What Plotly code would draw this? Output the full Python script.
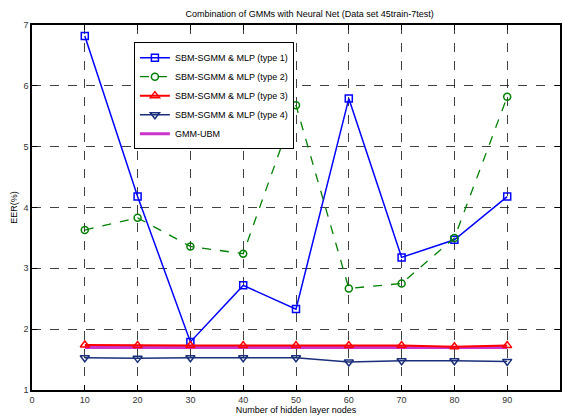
import plotly.graph_objects as go

nodes = [10, 20, 30, 40, 50, 60, 70, 80, 90]
type1 = [6.82, 4.18, 1.79, 2.72, 2.33, 5.79, 3.18, 3.47, 4.18]
type2 = [3.63, 3.83, 3.36, 3.24, 5.68, 2.67, 2.75, 3.50, 5.82]
type3 = [1.74, 1.73, 1.73, 1.73, 1.73, 1.73, 1.73, 1.71, 1.73]
type4 = [1.53, 1.52, 1.53, 1.53, 1.53, 1.46, 1.48, 1.48, 1.47]
gmm_ubm = [1.70, 1.70, 1.70, 1.70, 1.70, 1.70, 1.70, 1.70, 1.70]

names = ["SBM-SGMM & MLP (type 1)", "SBM-SGMM & MLP (type 2)",
         "SBM-SGMM & MLP (type 3)", "SBM-SGMM & MLP (type 4)", "GMM-UBM"]

fig = go.Figure()
fig.add_trace(go.Scatter(x=nodes, y=gmm_ubm, mode="lines", name=names[4],
                         line=dict(color="#cc33cc", width=3), legendrank=5))
fig.add_trace(go.Scatter(x=nodes, y=type1, mode="lines+markers", name=names[0],
                         line=dict(color="#0000ff", width=1.5),
                         marker=dict(symbol="square-open", size=7, color="#0000ff", line=dict(width=1.5)),
                         legendrank=1))
fig.add_trace(go.Scatter(x=nodes, y=type2, mode="lines+markers", name=names[1],
                         line=dict(color="#008000", width=1.3, dash="dash"),
                         marker=dict(symbol="circle-open", size=7, color="#008000", line=dict(width=1.5)),
                         legendrank=2))
fig.add_trace(go.Scatter(x=nodes, y=type3, mode="lines+markers", name=names[2],
                         line=dict(color="#ff0000", width=2),
                         marker=dict(symbol="triangle-up-open", size=8, color="#ff0000", line=dict(width=1.5)),
                         legendrank=3))
fig.add_trace(go.Scatter(x=nodes, y=type4, mode="lines+markers", name=names[3],
                         line=dict(color="#1a2f7a", width=1.5),
                         marker=dict(symbol="triangle-down-open", size=8, color="#1a2f7a", line=dict(width=1.5)),
                         legendrank=4))

axis_common = dict(showline=True, linecolor="black", linewidth=1.5, mirror="ticks",
                   ticks="inside", ticklen=5, tickcolor="black",
                   showgrid=True, gridcolor="rgba(0,0,0,0.75)", griddash="dash", gridwidth=1,
                   zeroline=False, tickfont=dict(size=9, color="#333333"))

fig.update_layout(
    width=563, height=417,
    margin=dict(l=32, r=1, t=25, b=27),
    paper_bgcolor="white", plot_bgcolor="white",
    font=dict(family="Liberation Sans, Arial, sans-serif", size=9, color="black"),
    title=dict(text="Combination of GMMs with Neural Net (Data set 45train-7test)",
               x=0.55, xanchor="center", y=0.975, yanchor="top",
               font=dict(size=9)),
    xaxis=dict(range=[0, 100], tickvals=list(range(0, 101, 10)),
               title=dict(text="Number of hidden layer nodes", standoff=2, font=dict(size=9)),
               **axis_common),
    yaxis=dict(range=[1, 7], tickvals=list(range(1, 8)),
               title=dict(text="EER(%)", standoff=4, font=dict(size=9)),
               **axis_common),
    legend=dict(x=0.193, y=0.953, xanchor="left", yanchor="top",
                bgcolor="white", bordercolor="black", borderwidth=1,
                font=dict(size=9), tracegroupgap=0, itemwidth=30),
    showlegend=True,
)

fig.write_html("out.html")
